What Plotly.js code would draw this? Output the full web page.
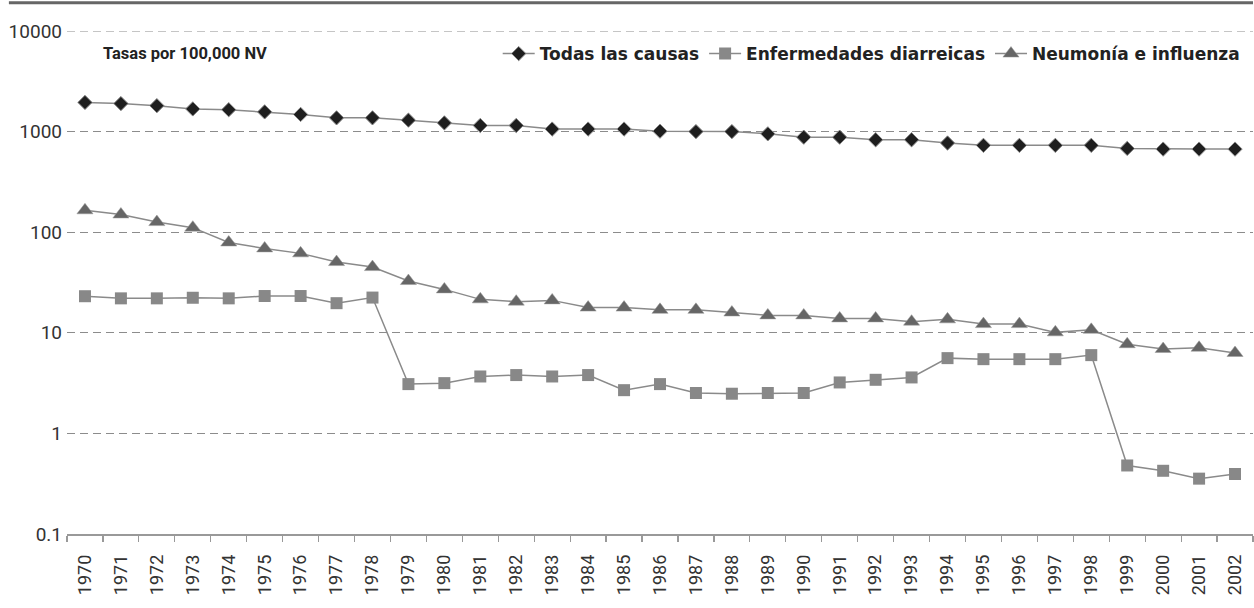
<!DOCTYPE html>
<html>
<head>
<meta charset="utf-8">
<script src="https://cdn.plot.ly/plotly-3.0.1.min.js"></script>
<style>html,body{margin:0;padding:0;background:#fff;}#chart{width:1254px;height:608px;}</style>
</head>
<body>
<div id="chart"></div>
<script>
const years = ["1970","1971","1972","1973","1974","1975","1976","1977","1978","1979","1980","1981","1982","1983","1984","1985","1986","1987","1988","1989","1990","1991","1992","1993","1994","1995","1996","1997","1998","1999","2000","2001","2002"];
const todasLasCausas = [1950,1900,1810,1680,1650,1570,1480,1370,1370,1300,1220,1150,1150,1060,1060,1060,1010,1000,1000,950,880,880,830,830,770,730,730,730,730,680,670,670,670];
const diarreicas = [23.1,22.0,22.0,22.3,22.0,23.2,23.2,19.7,22.4,3.09,3.16,3.68,3.80,3.68,3.80,2.69,3.09,2.52,2.48,2.52,2.52,3.21,3.41,3.60,5.60,5.47,5.47,5.47,6.0,0.48,0.425,0.355,0.395];
const neumonia = [165,150,126,111,79,69,61.6,50.5,45,32.7,27,21.5,20.4,21,17.8,17.8,16.9,16.9,15.9,14.9,14.9,13.9,13.9,12.9,13.6,12.2,12.2,10.1,10.7,7.7,6.9,7.1,6.3];
const seriesNames = ["Todas las causas","Enfermedades diarreicas","Neumonía e influenza"];
const yTickVals = [0.1,1,10,100,1000,10000];
const yTickText = ["0.1","1","10","100","1000","10000"];
const unitLabel = "Tasas por 100,000 NV";

const lineStyle = {color:"#8a8a8a", width:1.5};
const traces = [
  {x:years, y:todasLasCausas, name:seriesNames[0], type:"scatter", mode:"lines+markers",
   line:lineStyle, marker:{symbol:"diamond", size:11, color:"#1e1e1e", line:{color:"#8a8a8a", width:1}}},
  {x:years, y:diarreicas, name:seriesNames[1], type:"scatter", mode:"lines+markers",
   line:lineStyle, marker:{symbol:"square", size:12, color:"#888888", line:{width:0}}},
  {x:years, y:neumonia, name:seriesNames[2], type:"scatter", mode:"lines+markers",
   line:lineStyle, marker:{symbol:"triangle-up", size:14, color:"#666666", line:{color:"#9a9a9a", width:0.5}}}
];

const layout = {
  width:1254, height:608,
  margin:{l:67, r:1, t:31, b:74},
  paper_bgcolor:"#fff", plot_bgcolor:"#fff",
  font:{family:"Roboto, 'DejaVu Sans', sans-serif", color:"#222"},
  showlegend:true,
  legend:{orientation:"h", x:0.993, xanchor:"right", y:0.99, yanchor:"top",
    font:{size:17, color:"#222", family:"'DejaVu Sans', sans-serif", weight:"bold"},
    itemwidth:32, bgcolor:"rgba(0,0,0,0)", traceorder:"normal", tracegroupgap:0},
  xaxis:{type:"category", range:[-0.5, 32.5], tickangle:-90, tickson:"boundaries",
    ticks:"outside", ticklen:6, tickcolor:"#999", tickwidth:1.2,
    showline:true, linecolor:"#999", linewidth:1.5, showgrid:false, zeroline:false,
    ticklabelstandoff:12,
    tickfont:{size:18, color:"#333"}, fixedrange:true},
  yaxis:{type:"log", range:[-1, 4], tickvals:yTickVals, ticktext:yTickText,
    showgrid:true, gridcolor:"#8c8c8c", gridwidth:1.2, griddash:"8px,5px",
    showline:false, zeroline:false, ticks:"", ticklabelstandoff:4,
    tickfont:{size:19, color:"#333"}, fixedrange:true},
  annotations:[
    {xref:"paper", yref:"paper", x:0.029, y:0.955, xanchor:"left", yanchor:"middle",
     text:"<b>"+unitLabel+"</b>", showarrow:false, font:{size:16.5, color:"#222"}}
  ],
  shapes:[
    {type:"line", xref:"paper", yref:"paper", x0:-0.049, x1:1, y0:1.056, y1:1.056,
     line:{color:"#666", width:3}},
    {type:"line", xref:"paper", yref:"y", x0:0, x1:1, y0:10000, y1:10000,
     line:{color:"#8c8c8c", width:1.2, dash:"8px,5px"}}
  ]
};

Plotly.newPlot("chart", traces, layout, {displayModeBar:false, staticPlot:true});
</script>
</body>
</html>
